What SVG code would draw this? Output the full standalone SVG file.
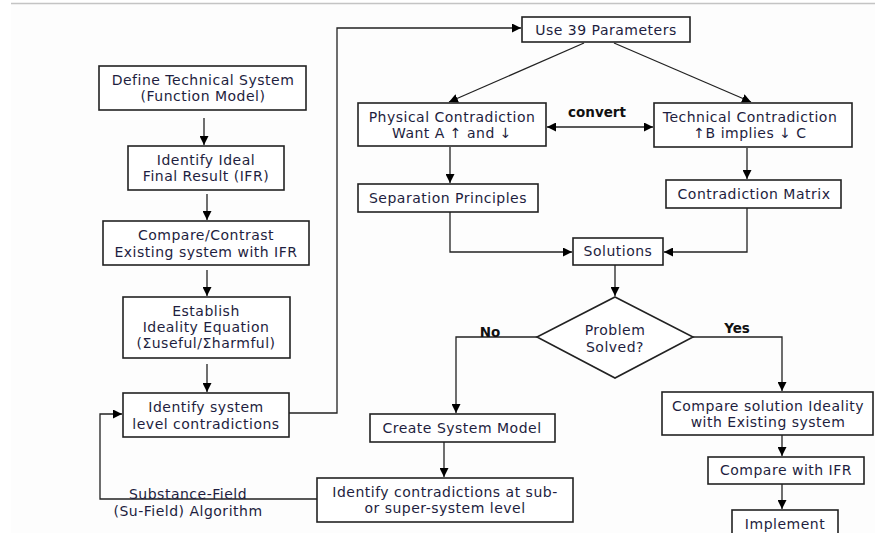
<svg xmlns="http://www.w3.org/2000/svg" width="875" height="533" viewBox="0 0 875 533">
  <defs>
    <marker id="arrow" viewBox="0 0 10 10" refX="10" refY="5" markerWidth="9" markerHeight="9" markerUnits="userSpaceOnUse" orient="auto-start-reverse">
      <path d="M0,0 L10,5 L0,10 z" fill="#000"/>
    </marker>
    <style>
      .box { fill: #fff; stroke: #222; stroke-width: 1.6; }
      .lbl { font-family: "DejaVu Sans", Verdana, sans-serif; font-size: 14px; letter-spacing: 0.5px; fill: #1e1e40; text-anchor: middle; }
      .bold { font-family: "DejaVu Sans", Verdana, sans-serif; font-size: 13.5px; font-weight: bold; fill: #111; text-anchor: middle; }
      .edge { fill: none; stroke: #222; stroke-width: 1.3; }
      .arr { marker-end: url(#arrow); }
    </style>
  </defs>

  <!-- page background and top rule -->
  <rect x="0" y="0" width="875" height="533" fill="#fff"/>
  <rect x="11" y="4" width="864" height="529" fill="#fdfdfd"/>
  <line x1="11" y1="3.5" x2="875" y2="3.5" stroke="#c4c4c4" stroke-width="1.5"/>

  <!-- connectors -->
  <g id="connectors">
    <line class="edge arr" x1="204" y1="118" x2="204" y2="145"/>
    <line class="edge arr" x1="207" y1="194" x2="207" y2="220"/>
    <line class="edge arr" x1="207" y1="270" x2="207" y2="296"/>
    <line class="edge arr" x1="207" y1="364" x2="207" y2="392"/>
    <polyline class="edge arr" points="289,413 337,413 337,28 521,28"/>
    <line class="edge arr" x1="584" y1="43" x2="449" y2="102"/>
    <line class="edge arr" x1="614" y1="43" x2="751" y2="102"/>
    <line class="edge arr" x1="600" y1="127" x2="547" y2="127"/>
    <line class="edge arr" x1="600" y1="127" x2="653" y2="127"/>
    <line class="edge arr" x1="450" y1="147" x2="450" y2="183"/>
    <line class="edge arr" x1="747" y1="148" x2="747" y2="179"/>
    <polyline class="edge arr" points="450,212 450,252 572,252"/>
    <polyline class="edge arr" points="747,208 747,252 664,252"/>
    <line class="edge arr" x1="615" y1="265" x2="615" y2="296"/>
    <polyline class="edge arr" points="537,337 456,337 456,413"/>
    <polyline class="edge arr" points="693,337 782,337 782,391"/>
    <line class="edge arr" x1="782" y1="435" x2="782" y2="456"/>
    <line class="edge arr" x1="782" y1="484" x2="782" y2="509"/>
    <line class="edge arr" x1="444" y1="442" x2="444" y2="477"/>
    <polyline class="edge arr" points="317,499 100,499 100,414 122,414"/>
    <text class="bold" x="597" y="117">convert</text>
    <text class="bold" x="490" y="337">No</text>
    <text class="bold" x="737" y="333">Yes</text>
    <text class="lbl" x="188" y="499">Substance-Field</text>
    <text class="lbl" x="188" y="516">(Su-Field) Algorithm</text>
  </g>

  <g id="define-system">
    <rect class="box" x="99" y="66" width="207" height="44"/>
    <text class="lbl" x="203" y="85">Define Technical System</text>
    <text class="lbl" x="203" y="101">(Function Model)</text>
  </g>

  <g id="identify-ifr">
    <rect class="box" x="128" y="146" width="156" height="44"/>
    <text class="lbl" x="206" y="165">Identify Ideal</text>
    <text class="lbl" x="206" y="181">Final Result (IFR)</text>
  </g>

  <g id="compare-contrast">
    <rect class="box" x="103" y="221" width="206" height="44"/>
    <text class="lbl" x="206" y="240">Compare/Contrast</text>
    <text class="lbl" x="206" y="257">Existing system with IFR</text>
  </g>

  <g id="ideality-equation">
    <rect class="box" x="123" y="297" width="167" height="61"/>
    <text class="lbl" x="206" y="316">Establish</text>
    <text class="lbl" x="206" y="332">Ideality Equation</text>
    <text class="lbl" x="206" y="348">(Σuseful/Σharmful)</text>
  </g>

  <g id="system-contradictions">
    <rect class="box" x="123" y="393" width="166" height="44"/>
    <text class="lbl" x="206" y="412">Identify system</text>
    <text class="lbl" x="206" y="429">level contradictions</text>
  </g>

  <g id="use-39-parameters">
    <rect class="box" x="522" y="17" width="168" height="25"/>
    <text class="lbl" x="606" y="35">Use 39 Parameters</text>
  </g>

  <g id="physical-contradiction">
    <rect class="box" x="358" y="103" width="188" height="43"/>
    <text class="lbl" x="452" y="122">Physical Contradiction</text>
    <text class="lbl" x="452" y="138">Want  A ↑ and ↓</text>
  </g>

  <g id="technical-contradiction">
    <rect class="box" x="654" y="103" width="198" height="44"/>
    <text class="lbl" x="750" y="122">Technical Contradiction</text>
    <text class="lbl" x="750" y="138">↑B implies  ↓ C</text>
  </g>

  <g id="separation-principles">
    <rect class="box" x="358" y="184" width="180" height="28"/>
    <text class="lbl" x="448" y="203">Separation Principles</text>
  </g>

  <g id="contradiction-matrix">
    <rect class="box" x="666" y="180" width="175" height="28"/>
    <text class="lbl" x="754" y="199">Contradiction Matrix</text>
  </g>

  <g id="solutions">
    <rect class="box" x="573" y="238" width="90" height="27"/>
    <text class="lbl" x="618" y="256">Solutions</text>
  </g>

  <g id="problem-solved">
    <polygon class="box" points="615,297 693,337 615,378 537,337"/>
    <text class="lbl" x="615" y="335">Problem</text>
    <text class="lbl" x="615" y="352">Solved?</text>
  </g>

  <g id="create-system-model">
    <rect class="box" x="370" y="414" width="185" height="28"/>
    <text class="lbl" x="462" y="433">Create System Model</text>
  </g>

  <g id="sub-super-contradictions">
    <rect class="box" x="317" y="478" width="256" height="44"/>
    <text class="lbl" x="445" y="497">Identify contradictions at sub-</text>
    <text class="lbl" x="445" y="513">or super-system level</text>
  </g>

  <g id="compare-ideality">
    <rect class="box" x="662" y="392" width="211" height="43"/>
    <text class="lbl" x="768" y="411">Compare solution Ideality</text>
    <text class="lbl" x="768" y="427">with Existing system</text>
  </g>

  <g id="compare-ifr">
    <rect class="box" x="708" y="457" width="156" height="27"/>
    <text class="lbl" x="786" y="475">Compare with IFR</text>
  </g>

  <g id="implement">
    <rect class="box" x="732" y="510" width="106" height="30"/>
    <text class="lbl" x="785" y="529">Implement</text>
  </g>
</svg>
